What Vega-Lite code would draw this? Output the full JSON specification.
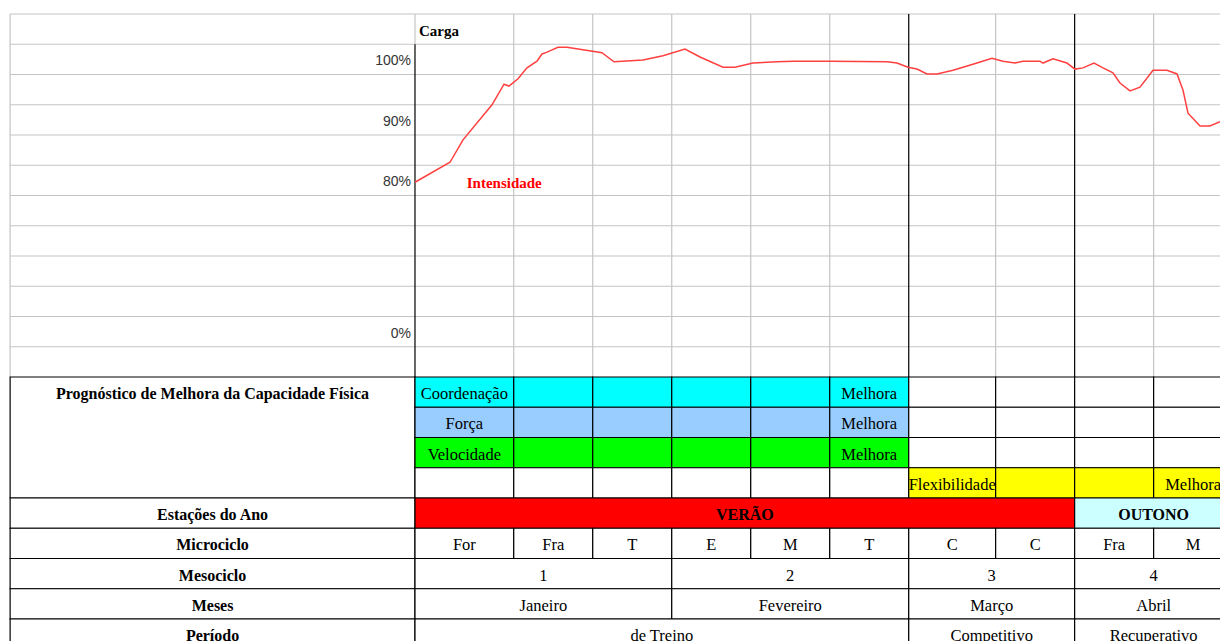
{
  "$schema": "https://vega.github.io/schema/vega-lite/v6.json",
  "width": 1220,
  "height": 641,
  "autosize": {"type": "fit", "contains": "padding"},
  "padding": 0,
  "background": "white",
  "config": {"view": {"stroke": null}},
  "resolve": {"scale": {"y": "independent"}},
  "datasets": {
    "grade": [
      {"r": 0, "t0": -5.125, "t1": 10.5, "tipo": "grade"},
      {"r": 1, "t0": -5.125, "t1": 10.5, "tipo": "grade"},
      {"r": 2, "t0": -5.125, "t1": 10.5, "tipo": "grade"},
      {"r": 3, "t0": -5.125, "t1": 10.5, "tipo": "grade"},
      {"r": 4, "t0": -5.125, "t1": 10.5, "tipo": "grade"},
      {"r": 5, "t0": -5.125, "t1": 10.5, "tipo": "grade"},
      {"r": 6, "t0": -5.125, "t1": 10.5, "tipo": "grade"},
      {"r": 7, "t0": -5.125, "t1": 10.5, "tipo": "grade"},
      {"r": 8, "t0": -5.125, "t1": 10.5, "tipo": "grade"},
      {"r": 9, "t0": -5.125, "t1": 10.5, "tipo": "grade"},
      {"r": 10, "t0": -5.125, "t1": 10.5, "tipo": "grade"},
      {"r": 11, "t0": -5.125, "t1": 10.5, "tipo": "grade"}
    ],
    "verticais": [
      {"t": -5.125, "r0": 0, "r1": 12, "tipo": "grade"},
      {"t": 0, "r0": 0, "r1": 1, "tipo": "grade"},
      {"t": 1.25, "r0": 0, "r1": 12, "tipo": "grade"},
      {"t": 2.25, "r0": 0, "r1": 12, "tipo": "grade"},
      {"t": 3.25, "r0": 0, "r1": 12, "tipo": "grade"},
      {"t": 4.25, "r0": 0, "r1": 12, "tipo": "grade"},
      {"t": 5.25, "r0": 0, "r1": 12, "tipo": "grade"},
      {"t": 7.35, "r0": 0, "r1": 12, "tipo": "grade"},
      {"t": 9.35, "r0": 0, "r1": 12, "tipo": "grade"},
      {"t": 0, "r0": 1, "r1": 12, "tipo": "divisoria"},
      {"t": 6.25, "r0": 0, "r1": 12, "tipo": "divisoria"},
      {"t": 8.35, "r0": 0, "r1": 12, "tipo": "divisoria"}
    ],
    "celulas": [
      {"r0": 12, "r1": 16, "c0": -5.125, "c1": 0, "grupo": "branco", "texto": "Prognóstico de Melhora da Capacidade Física", "tipo": "rotulo"},
      {"r0": 12, "r1": 13, "c0": 0, "c1": 1.25, "grupo": "coordenacao", "texto": "Coordenação", "tipo": "valor"},
      {"r0": 12, "r1": 13, "c0": 1.25, "c1": 2.25, "grupo": "coordenacao", "texto": "", "tipo": "valor"},
      {"r0": 12, "r1": 13, "c0": 2.25, "c1": 3.25, "grupo": "coordenacao", "texto": "", "tipo": "valor"},
      {"r0": 12, "r1": 13, "c0": 3.25, "c1": 4.25, "grupo": "coordenacao", "texto": "", "tipo": "valor"},
      {"r0": 12, "r1": 13, "c0": 4.25, "c1": 5.25, "grupo": "coordenacao", "texto": "", "tipo": "valor"},
      {"r0": 12, "r1": 13, "c0": 5.25, "c1": 6.25, "grupo": "coordenacao", "texto": "Melhora", "tipo": "valor"},
      {"r0": 12, "r1": 13, "c0": 6.25, "c1": 7.35, "grupo": "branco", "texto": "", "tipo": "valor"},
      {"r0": 12, "r1": 13, "c0": 7.35, "c1": 8.35, "grupo": "branco", "texto": "", "tipo": "valor"},
      {"r0": 12, "r1": 13, "c0": 8.35, "c1": 9.35, "grupo": "branco", "texto": "", "tipo": "valor"},
      {"r0": 12, "r1": 13, "c0": 9.35, "c1": 10.35, "grupo": "branco", "texto": "", "tipo": "valor"},
      {"r0": 13, "r1": 14, "c0": 0, "c1": 1.25, "grupo": "forca", "texto": "Força", "tipo": "valor"},
      {"r0": 13, "r1": 14, "c0": 1.25, "c1": 2.25, "grupo": "forca", "texto": "", "tipo": "valor"},
      {"r0": 13, "r1": 14, "c0": 2.25, "c1": 3.25, "grupo": "forca", "texto": "", "tipo": "valor"},
      {"r0": 13, "r1": 14, "c0": 3.25, "c1": 4.25, "grupo": "forca", "texto": "", "tipo": "valor"},
      {"r0": 13, "r1": 14, "c0": 4.25, "c1": 5.25, "grupo": "forca", "texto": "", "tipo": "valor"},
      {"r0": 13, "r1": 14, "c0": 5.25, "c1": 6.25, "grupo": "forca", "texto": "Melhora", "tipo": "valor"},
      {"r0": 13, "r1": 14, "c0": 6.25, "c1": 7.35, "grupo": "branco", "texto": "", "tipo": "valor"},
      {"r0": 13, "r1": 14, "c0": 7.35, "c1": 8.35, "grupo": "branco", "texto": "", "tipo": "valor"},
      {"r0": 13, "r1": 14, "c0": 8.35, "c1": 9.35, "grupo": "branco", "texto": "", "tipo": "valor"},
      {"r0": 13, "r1": 14, "c0": 9.35, "c1": 10.35, "grupo": "branco", "texto": "", "tipo": "valor"},
      {"r0": 14, "r1": 15, "c0": 0, "c1": 1.25, "grupo": "velocidade", "texto": "Velocidade", "tipo": "valor"},
      {"r0": 14, "r1": 15, "c0": 1.25, "c1": 2.25, "grupo": "velocidade", "texto": "", "tipo": "valor"},
      {"r0": 14, "r1": 15, "c0": 2.25, "c1": 3.25, "grupo": "velocidade", "texto": "", "tipo": "valor"},
      {"r0": 14, "r1": 15, "c0": 3.25, "c1": 4.25, "grupo": "velocidade", "texto": "", "tipo": "valor"},
      {"r0": 14, "r1": 15, "c0": 4.25, "c1": 5.25, "grupo": "velocidade", "texto": "", "tipo": "valor"},
      {"r0": 14, "r1": 15, "c0": 5.25, "c1": 6.25, "grupo": "velocidade", "texto": "Melhora", "tipo": "valor"},
      {"r0": 14, "r1": 15, "c0": 6.25, "c1": 7.35, "grupo": "branco", "texto": "", "tipo": "valor"},
      {"r0": 14, "r1": 15, "c0": 7.35, "c1": 8.35, "grupo": "branco", "texto": "", "tipo": "valor"},
      {"r0": 14, "r1": 15, "c0": 8.35, "c1": 9.35, "grupo": "branco", "texto": "", "tipo": "valor"},
      {"r0": 14, "r1": 15, "c0": 9.35, "c1": 10.35, "grupo": "branco", "texto": "", "tipo": "valor"},
      {"r0": 15, "r1": 16, "c0": 0, "c1": 1.25, "grupo": "branco", "texto": "", "tipo": "valor"},
      {"r0": 15, "r1": 16, "c0": 1.25, "c1": 2.25, "grupo": "branco", "texto": "", "tipo": "valor"},
      {"r0": 15, "r1": 16, "c0": 2.25, "c1": 3.25, "grupo": "branco", "texto": "", "tipo": "valor"},
      {"r0": 15, "r1": 16, "c0": 3.25, "c1": 4.25, "grupo": "branco", "texto": "", "tipo": "valor"},
      {"r0": 15, "r1": 16, "c0": 4.25, "c1": 5.25, "grupo": "branco", "texto": "", "tipo": "valor"},
      {"r0": 15, "r1": 16, "c0": 5.25, "c1": 6.25, "grupo": "branco", "texto": "", "tipo": "valor"},
      {"r0": 15, "r1": 16, "c0": 6.25, "c1": 7.35, "grupo": "flexibilidade", "texto": "Flexibilidade", "tipo": "valor"},
      {"r0": 15, "r1": 16, "c0": 7.35, "c1": 8.35, "grupo": "flexibilidade", "texto": "", "tipo": "valor"},
      {"r0": 15, "r1": 16, "c0": 8.35, "c1": 9.35, "grupo": "flexibilidade", "texto": "", "tipo": "valor"},
      {"r0": 15, "r1": 16, "c0": 9.35, "c1": 10.35, "grupo": "flexibilidade", "texto": "Melhora", "tipo": "valor"},
      {"r0": 16, "r1": 17, "c0": -5.125, "c1": 0, "grupo": "branco", "texto": "Estações do Ano", "tipo": "rotulo"},
      {"r0": 16, "r1": 17, "c0": 0, "c1": 8.35, "grupo": "verao", "texto": "VERÃO", "tipo": "rotulo"},
      {"r0": 16, "r1": 17, "c0": 8.35, "c1": 10.35, "grupo": "outono", "texto": "OUTONO", "tipo": "rotulo"},
      {"r0": 17, "r1": 18, "c0": -5.125, "c1": 0, "grupo": "branco", "texto": "Microciclo", "tipo": "rotulo"},
      {"r0": 17, "r1": 18, "c0": 0, "c1": 1.25, "grupo": "branco", "texto": "For", "tipo": "valor"},
      {"r0": 17, "r1": 18, "c0": 1.25, "c1": 2.25, "grupo": "branco", "texto": "Fra", "tipo": "valor"},
      {"r0": 17, "r1": 18, "c0": 2.25, "c1": 3.25, "grupo": "branco", "texto": "T", "tipo": "valor"},
      {"r0": 17, "r1": 18, "c0": 3.25, "c1": 4.25, "grupo": "branco", "texto": "E", "tipo": "valor"},
      {"r0": 17, "r1": 18, "c0": 4.25, "c1": 5.25, "grupo": "branco", "texto": "M", "tipo": "valor"},
      {"r0": 17, "r1": 18, "c0": 5.25, "c1": 6.25, "grupo": "branco", "texto": "T", "tipo": "valor"},
      {"r0": 17, "r1": 18, "c0": 6.25, "c1": 7.35, "grupo": "branco", "texto": "C", "tipo": "valor"},
      {"r0": 17, "r1": 18, "c0": 7.35, "c1": 8.35, "grupo": "branco", "texto": "C", "tipo": "valor"},
      {"r0": 17, "r1": 18, "c0": 8.35, "c1": 9.35, "grupo": "branco", "texto": "Fra", "tipo": "valor"},
      {"r0": 17, "r1": 18, "c0": 9.35, "c1": 10.35, "grupo": "branco", "texto": "M", "tipo": "valor"},
      {"r0": 18, "r1": 19, "c0": -5.125, "c1": 0, "grupo": "branco", "texto": "Mesociclo", "tipo": "rotulo"},
      {"r0": 18, "r1": 19, "c0": 0, "c1": 3.25, "grupo": "branco", "texto": "1", "tipo": "valor"},
      {"r0": 18, "r1": 19, "c0": 3.25, "c1": 6.25, "grupo": "branco", "texto": "2", "tipo": "valor"},
      {"r0": 18, "r1": 19, "c0": 6.25, "c1": 8.35, "grupo": "branco", "texto": "3", "tipo": "valor"},
      {"r0": 18, "r1": 19, "c0": 8.35, "c1": 10.35, "grupo": "branco", "texto": "4", "tipo": "valor"},
      {"r0": 19, "r1": 20, "c0": -5.125, "c1": 0, "grupo": "branco", "texto": "Meses", "tipo": "rotulo"},
      {"r0": 19, "r1": 20, "c0": 0, "c1": 3.25, "grupo": "branco", "texto": "Janeiro", "tipo": "valor"},
      {"r0": 19, "r1": 20, "c0": 3.25, "c1": 6.25, "grupo": "branco", "texto": "Fevereiro", "tipo": "valor"},
      {"r0": 19, "r1": 20, "c0": 6.25, "c1": 8.35, "grupo": "branco", "texto": "Março", "tipo": "valor"},
      {"r0": 19, "r1": 20, "c0": 8.35, "c1": 10.35, "grupo": "branco", "texto": "Abril", "tipo": "valor"},
      {"r0": 20, "r1": 21, "c0": -5.125, "c1": 0, "grupo": "branco", "texto": "Período", "tipo": "rotulo"},
      {"r0": 20, "r1": 21, "c0": 0, "c1": 6.25, "grupo": "branco", "texto": "de Treino", "tipo": "valor"},
      {"r0": 20, "r1": 21, "c0": 6.25, "c1": 8.35, "grupo": "branco", "texto": "Competitivo", "tipo": "valor"},
      {"r0": 20, "r1": 21, "c0": 8.35, "c1": 10.35, "grupo": "branco", "texto": "Recuperativo", "tipo": "valor"}
    ],
    "escala": [
      {"r": 1, "texto": "100%"},
      {"r": 3, "texto": "90%"},
      {"r": 5, "texto": "80%"},
      {"r": 10, "texto": "0%"}
    ],
    "intensidade": [
      {"t": 0, "v": 79.8}, {"t": 0.443, "v": 83.1}, {"t": 0.608, "v": 86.8}, {"t": 0.975, "v": 92.6},
      {"t": 1.127, "v": 96.0}, {"t": 1.19, "v": 95.7}, {"t": 1.304, "v": 96.9}, {"t": 1.418, "v": 98.7},
      {"t": 1.544, "v": 99.8}, {"t": 1.608, "v": 101.0}, {"t": 1.671, "v": 101.3}, {"t": 1.81, "v": 102.1},
      {"t": 1.924, "v": 102.1}, {"t": 2.367, "v": 101.2}, {"t": 2.519, "v": 99.7}, {"t": 2.886, "v": 100.0},
      {"t": 3.139, "v": 100.7}, {"t": 3.418, "v": 101.8}, {"t": 3.608, "v": 100.5}, {"t": 3.899, "v": 98.8},
      {"t": 4.051, "v": 98.8}, {"t": 4.278, "v": 99.5}, {"t": 4.582, "v": 99.7}, {"t": 4.785, "v": 99.8},
      {"t": 5.253, "v": 99.8}, {"t": 5.975, "v": 99.7}, {"t": 6.101, "v": 99.5}, {"t": 6.241, "v": 98.8},
      {"t": 6.354, "v": 98.5}, {"t": 6.481, "v": 97.7}, {"t": 6.608, "v": 97.7}, {"t": 6.81, "v": 98.3},
      {"t": 7.063, "v": 99.3}, {"t": 7.304, "v": 100.3}, {"t": 7.443, "v": 99.8}, {"t": 7.595, "v": 99.5},
      {"t": 7.696, "v": 99.8}, {"t": 7.911, "v": 99.8}, {"t": 7.949, "v": 99.5}, {"t": 8.076, "v": 100.2},
      {"t": 8.253, "v": 99.5}, {"t": 8.354, "v": 98.5}, {"t": 8.456, "v": 98.7}, {"t": 8.595, "v": 99.5},
      {"t": 8.709, "v": 98.7}, {"t": 8.835, "v": 97.9}, {"t": 8.924, "v": 96.2}, {"t": 9.051, "v": 94.9},
      {"t": 9.177, "v": 95.5}, {"t": 9.342, "v": 98.3}, {"t": 9.519, "v": 98.3}, {"t": 9.646, "v": 97.7},
      {"t": 9.722, "v": 95.0}, {"t": 9.785, "v": 91.2}, {"t": 9.937, "v": 89.1}, {"t": 10.063, "v": 89.1},
      {"t": 10.19, "v": 89.8}
    ],
    "titulo": [{"t": 0.05, "r": 0.55, "texto": "Carga"}],
    "serie": [{"t": 1.13, "r": 5.6, "texto": "Intensidade"}]
  },
  "layer": [
    {
      "data": {"name": "grade"},
      "mark": {"type": "rule", "clip": true, "strokeWidth": 1.2},
      "encoding": {
        "y": {"field": "r", "type": "quantitative", "scale": {"domain": [-0.4628, 20.7273], "reverse": true, "nice": false, "zero": false}, "axis": null},
        "x": {"field": "t0", "type": "quantitative", "scale": {"domain": [-5.253, 10.19], "nice": false, "zero": false}, "axis": null},
        "x2": {"field": "t1"},
        "color": {"field": "tipo", "type": "nominal", "scale": {"domain": ["grade", "divisoria"], "range": ["#c4c4c4", "#000000"]}, "legend": null}
      }
    },
    {
      "data": {"name": "verticais"},
      "mark": {"type": "rule", "clip": true, "strokeWidth": 1.2},
      "encoding": {
        "x": {"field": "t", "type": "quantitative", "scale": {"domain": [-5.253, 10.19], "nice": false, "zero": false}, "axis": null},
        "y": {"field": "r0", "type": "quantitative", "scale": {"domain": [-0.4628, 20.7273], "reverse": true, "nice": false, "zero": false}, "axis": null},
        "y2": {"field": "r1"},
        "color": {"field": "tipo", "type": "nominal", "scale": {"domain": ["grade", "divisoria"], "range": ["#c4c4c4", "#000000"]}, "legend": null}
      }
    },
    {
      "data": {"name": "celulas"},
      "mark": {"type": "rect", "clip": true, "stroke": "#000000", "strokeWidth": 1.2},
      "encoding": {
        "x": {"field": "c0", "type": "quantitative", "scale": {"domain": [-5.253, 10.19], "nice": false, "zero": false}, "axis": null},
        "x2": {"field": "c1"},
        "y": {"field": "r0", "type": "quantitative", "scale": {"domain": [-0.4628, 20.7273], "reverse": true, "nice": false, "zero": false}, "axis": null},
        "y2": {"field": "r1"},
        "fill": {"field": "grupo", "type": "nominal", "scale": {"domain": ["branco", "coordenacao", "forca", "velocidade", "flexibilidade", "verao", "outono"], "range": ["#ffffff", "#00ffff", "#99ccff", "#00ff00", "#ffff00", "#ff0000", "#ccffff"]}, "legend": null}
      }
    },
    {
      "data": {"name": "intensidade"},
      "mark": {"type": "line", "clip": true, "color": "#ff4040", "strokeWidth": 1.5},
      "encoding": {
        "x": {"field": "t", "type": "quantitative", "scale": {"domain": [-5.253, 10.19], "nice": false, "zero": false}, "axis": null},
        "y": {"field": "v", "type": "quantitative", "scale": {"domain": [3.97, 109.92], "nice": false, "zero": false}, "axis": null}
      }
    },
    {
      "data": {"name": "celulas"},
      "transform": [
        {"filter": "datum.tipo == 'valor' && datum.texto != ''"},
        {"calculate": "(datum.c0 + datum.c1) / 2", "as": "cx"},
        {"calculate": "datum.r0 + 0.5", "as": "cy"}
      ],
      "mark": {"type": "text", "clip": true, "font": "Liberation Serif", "fontSize": 16.5, "color": "#000000", "align": "center", "baseline": "middle", "dy": 2},
      "encoding": {
        "x": {"field": "cx", "type": "quantitative", "scale": {"domain": [-5.253, 10.19], "nice": false, "zero": false}, "axis": null},
        "y": {"field": "cy", "type": "quantitative", "scale": {"domain": [-0.4628, 20.7273], "reverse": true, "nice": false, "zero": false}, "axis": null},
        "text": {"field": "texto"}
      }
    },
    {
      "data": {"name": "celulas"},
      "transform": [
        {"filter": "datum.tipo == 'rotulo'"},
        {"calculate": "(datum.c0 + datum.c1) / 2", "as": "cx"},
        {"calculate": "datum.r0 + 0.5", "as": "cy"}
      ],
      "mark": {"type": "text", "clip": true, "font": "Liberation Serif", "fontWeight": "bold", "fontSize": 16, "color": "#000000", "align": "center", "baseline": "middle", "dy": 2},
      "encoding": {
        "x": {"field": "cx", "type": "quantitative", "scale": {"domain": [-5.253, 10.19], "nice": false, "zero": false}, "axis": null},
        "y": {"field": "cy", "type": "quantitative", "scale": {"domain": [-0.4628, 20.7273], "reverse": true, "nice": false, "zero": false}, "axis": null},
        "text": {"field": "texto"}
      }
    },
    {
      "data": {"name": "escala"},
      "transform": [{"calculate": "datum.r + 0.5", "as": "cy"}],
      "mark": {"type": "text", "clip": true, "font": "Liberation Sans", "fontSize": 14, "color": "#333333", "align": "right", "baseline": "middle", "dy": 2},
      "encoding": {
        "x": {"datum": -0.05, "type": "quantitative", "scale": {"domain": [-5.253, 10.19], "nice": false, "zero": false}, "axis": null},
        "y": {"field": "cy", "type": "quantitative", "scale": {"domain": [-0.4628, 20.7273], "reverse": true, "nice": false, "zero": false}, "axis": null},
        "text": {"field": "texto"}
      }
    },
    {
      "data": {"name": "titulo"},
      "mark": {"type": "text", "clip": true, "font": "Liberation Serif", "fontWeight": "bold", "fontSize": 15, "baseline": "middle", "align": "left", "color": "#000000"},
      "encoding": {
        "x": {"field": "t", "type": "quantitative", "scale": {"domain": [-5.253, 10.19], "nice": false, "zero": false}, "axis": null},
        "y": {"field": "r", "type": "quantitative", "scale": {"domain": [-0.4628, 20.7273], "reverse": true, "nice": false, "zero": false}, "axis": null},
        "text": {"field": "texto"}
      }
    },
    {
      "data": {"name": "serie"},
      "mark": {"type": "text", "clip": true, "font": "Liberation Serif", "fontWeight": "bold", "fontSize": 15, "baseline": "middle", "align": "center", "color": "#ff0000"},
      "encoding": {
        "x": {"field": "t", "type": "quantitative", "scale": {"domain": [-5.253, 10.19], "nice": false, "zero": false}, "axis": null},
        "y": {"field": "r", "type": "quantitative", "scale": {"domain": [-0.4628, 20.7273], "reverse": true, "nice": false, "zero": false}, "axis": null},
        "text": {"field": "texto"}
      }
    }
  ]
}
